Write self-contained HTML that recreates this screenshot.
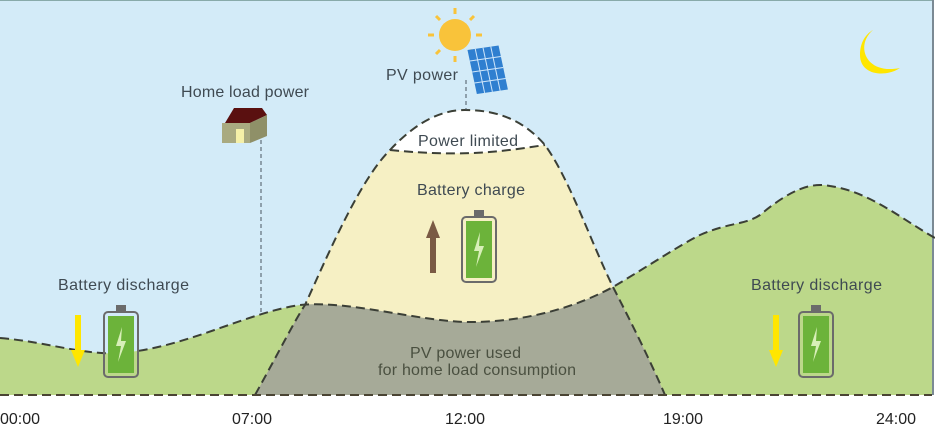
<!DOCTYPE html>
<html><head><meta charset="utf-8"><style>
html,body{margin:0;padding:0;background:#fff;}
svg{display:block;}
text{font-family:"Liberation Sans",sans-serif;}
</style></head><body>
<svg width="935" height="427" viewBox="0 0 935 427" xmlns="http://www.w3.org/2000/svg">
<defs>
<clipPath id="pv"><path d="M255,395 C280,350 295,320 305,305 C330,250 360,180 390,150 C420,118 445,110 465,110 C500,110 525,122 545,145 C570,180 590,240 613,287 C630,320 650,360 665,395 Z"/></clipPath>
<clipPath id="below"><path d="M0,338 C50,342 90,358 130,352 C190,345 250,312 300,305 C350,300 420,322 470,322 C530,322 580,305 613,287 C650,265 680,245 700,235 C730,222 745,225 760,215 C790,190 810,182 830,186 C870,192 900,218 935,238 L935,395 L0,395 Z"/></clipPath>
</defs>
<rect x="0" y="0" width="933" height="395" fill="#d3ebf8"/>
<rect x="0" y="0" width="933" height="1" fill="#8aa"/>
<rect x="932" y="0" width="2" height="395" fill="#7b8a94"/>
<rect x="0" y="0" width="932" height="395" fill="#bcd88a" clip-path="url(#below)"/>
<rect x="0" y="0" width="932" height="395" fill="#f6f0c4" clip-path="url(#pv)"/>
<g clip-path="url(#pv)"><path d="M380,0 L560,0 L545,145 C510,150 470,158 390,150 Z" fill="#ffffff"/></g>
<g clip-path="url(#pv)"><rect x="0" y="0" width="932" height="395" fill="#a6aa98" clip-path="url(#below)"/></g>
<g fill="none" stroke="#3b3f36" stroke-width="2" stroke-dasharray="9,5">
<path d="M0,338 C50,342 90,358 130,352 C190,345 250,312 300,305 C350,300 420,322 470,322 C530,322 580,305 613,287 C650,265 680,245 700,235 C730,222 745,225 760,215 C790,190 810,182 830,186 C870,192 900,218 935,238"/>
<path d="M255,395 C280,350 295,320 305,305 C330,250 360,180 390,150 C420,118 445,110 465,110 C500,110 525,122 545,145 C570,180 590,240 613,287 C630,320 650,360 665,395"/>
<path d="M390,150 C470,158 510,150 545,145"/>
<path d="M0,395 L932,395" stroke="#4a4433"/>
</g>
<g stroke="#4a5560" stroke-width="1" stroke-dasharray="4,3">
<line x1="261" y1="140" x2="261" y2="312"/>
<line x1="466" y1="80" x2="466" y2="110"/>
</g>
<g fill="#f9c33a">
<circle cx="455" cy="35" r="16"/>
<g stroke="#f9c33a" stroke-width="3">
<line x1="455" y1="8" x2="455" y2="14"/><line x1="455" y1="56" x2="455" y2="62"/>
<line x1="428" y1="35" x2="434" y2="35"/><line x1="476" y1="35" x2="482" y2="35"/>
<line x1="436" y1="16" x2="440" y2="20"/><line x1="470" y1="50" x2="474" y2="54"/>
<line x1="436" y1="54" x2="440" y2="50"/><line x1="470" y1="20" x2="474" y2="16"/>
</g></g>
<g transform="translate(476,90) skewX(12) skewY(-8)">
<rect x="0" y="-40" width="32" height="44" fill="#2f7fd0"/>
<g stroke="#cfe6fa" stroke-width="1">
<line x1="8" y1="-40" x2="8" y2="4"/><line x1="16" y1="-40" x2="16" y2="4"/><line x1="24" y1="-40" x2="24" y2="4"/>
<line x1="0" y1="-29" x2="32" y2="-29"/><line x1="0" y1="-18" x2="32" y2="-18"/><line x1="0" y1="-7" x2="32" y2="-7"/>
</g></g>
<path d="M873,30 C855,45 865,75 900,68 C885,78 860,75 860,55 C860,42 866,34 873,30 Z" fill="#ffe600"/>
<polygon points="222,128 234,108 262,108 267,115 250,123" fill="#5a1010"/>
<polygon points="222,123 250,123 250,143 222,143" fill="#a9aa80"/>
<polygon points="250,123 267,115 267,136 250,143" fill="#8f9068"/>
<rect x="236" y="129" width="8" height="14" fill="#f5f0a8"/>
<g fill="#3f4a52" font-size="16">
<text x="181" y="97" textLength="128">Home load power</text>
<text x="386" y="80" textLength="72">PV power</text>
<text x="418" y="146" textLength="100">Power limited</text>
<text x="417" y="195" textLength="108">Battery charge</text>
<text x="58" y="290" textLength="131">Battery discharge</text>
<text x="751" y="290" textLength="131">Battery discharge</text>
<text x="410" y="358" fill="#4a5040" textLength="111">PV power used</text>
<text x="378" y="375" fill="#4a5040" textLength="198">for home load consumption</text>
</g>
<g fill="#222" font-size="16">
<text x="0" y="424">00:00</text>
<text x="232" y="424">07:00</text>
<text x="445" y="424">12:00</text>
<text x="663" y="424">19:00</text>
<text x="876" y="424">24:00</text>
</g>
<g id="b">
<rect x="116" y="305" width="10" height="6" fill="#6b6b6b"/>
<rect x="104" y="312" width="34" height="65" rx="4" fill="none" stroke="#6b6b6b" stroke-width="2"/>
<rect x="108" y="316" width="26" height="57" fill="#6cb33a"/>
<polygon points="122,327 116,346 121,346 118,362 126,341 121,341" fill="#d8efb8"/>
</g>
<use href="#b" transform="translate(358,-95)"/>
<use href="#b" transform="translate(695,0)"/>
<rect x="75" y="315" width="6" height="40" fill="#ffe600"/>
<polygon points="71,350 85,350 78,367" fill="#ffe600"/>
<rect x="773" y="315" width="6" height="40" fill="#ffe600"/>
<polygon points="769,350 783,350 776,367" fill="#ffe600"/>
<rect x="430" y="235" width="6" height="38" fill="#7a5a44"/>
<polygon points="426,238 440,238 433,220" fill="#7a5a44"/>
</svg>
</body></html>
